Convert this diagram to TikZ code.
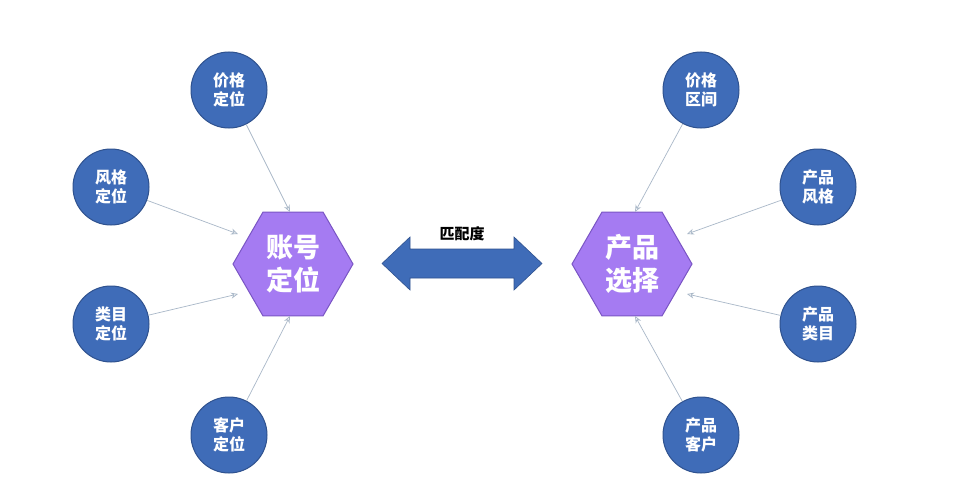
\documentclass[tikz,border=0pt]{standalone}
\usepackage{fontspec}
\setmainfont{Noto Sans CJK SC}
\usetikzlibrary{shapes.geometric,shapes.arrows,arrows.meta}
\definecolor{cblue}{HTML}{3F6CB8}
\definecolor{cedge}{HTML}{2F528F}
\definecolor{hfill}{HTML}{A57BF2}
\definecolor{hedge}{HTML}{7A55C4}
\definecolor{lgray}{HTML}{A9B8C8}
\begin{document}
\begin{tikzpicture}[x=1pt,y=-1pt,
 circ/.style={circle,fill=cblue,draw=cedge,line width=1pt,minimum size=76pt,inner sep=0pt,text=white,font=\fontsize{16}{19}\selectfont\bfseries,align=center},
 hexa/.style={regular polygon,regular polygon sides=6,fill=hfill,draw=hedge,line width=1pt,minimum size=120pt,inner sep=0pt,text=white,font=\fontsize{27}{33}\selectfont\bfseries,align=center},
 conn/.style={draw=lgray,line width=0.7pt,-{Stealth[length=7pt,width=6pt,open]}},
 bigarrow/.style={fill=cblue,draw=cedge,line width=0.6pt}]
\useasboundingbox (0,0) rectangle (977,495);
\fill[white] (0,0) rectangle (977,495);
\node[hexa] (L) at (293,264) {账号\\定位};
\node[hexa] (R) at (632,264) {产品\\选择};
\node[circ] (l1) at (229,90) {价格\\定位};
\node[circ] (l2) at (111,187) {风格\\定位};
\node[circ] (l3) at (111,324) {类目\\定位};
\node[circ] (l4) at (229,435) {客户\\定位};
\node[circ] (r1) at (701,90) {价格\\区间};
\node[circ] (r2) at (818,187) {产品\\风格};
\node[circ] (r3) at (818,324) {产品\\类目};
\node[circ] (r4) at (701,435) {产品\\客户};
\coordinate (la) at (290,212); \coordinate (lb) at (238,234);
\coordinate (lc) at (238,294); \coordinate (ld) at (290,316);
\coordinate (ra) at (635,212); \coordinate (rb) at (687,234);
\coordinate (rc) at (687,294); \coordinate (rd) at (635,316);
\draw[conn] (l1) -- (la); \draw[conn] (l2) -- (lb);
\draw[conn] (l3) -- (lc); \draw[conn] (l4) -- (ld);
\draw[conn] (r1) -- (ra); \draw[conn] (r2) -- (rb);
\draw[conn] (r3) -- (rc); \draw[conn] (r4) -- (rd);
\draw[bigarrow] (382,263.5) -- (410,237) -- (410,249) -- (514,249) -- (514,237) -- (542,263.5)
  -- (514,290) -- (514,278) -- (410,278) -- (410,290) -- cycle;
\node[font=\fontsize{15}{18}\selectfont\bfseries] (lab) at (462,234) {匹配度};
\end{tikzpicture}
\end{document}
